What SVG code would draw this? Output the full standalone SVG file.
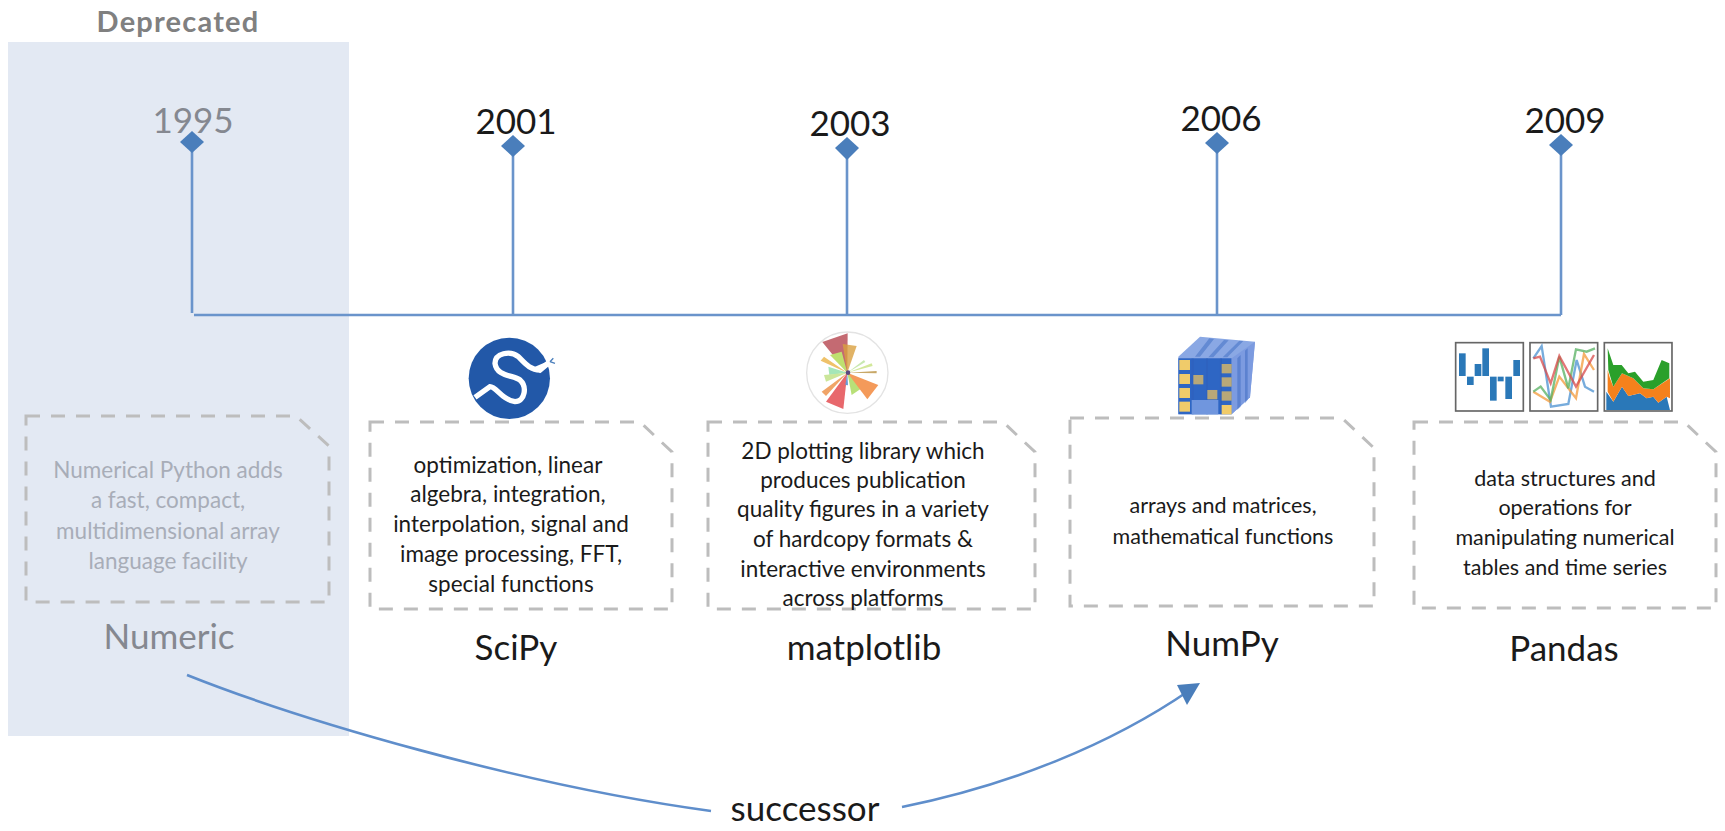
<svg xmlns="http://www.w3.org/2000/svg" width="1725" height="831" viewBox="0 0 1725 831">
<style>
text{font-family:"Lato","Open Sans","Liberation Sans",sans-serif;text-anchor:middle;fill:#1a1a1a}
.yr{font-size:35px}
.nm{font-size:35px}
.d{font-size:22.5px}
.n{font-size:21.5px}
.g{fill:#858890}
.gd{fill:#a8adb8}
.note{fill:none;stroke:#bdbdbd;stroke-width:3;stroke-dasharray:14 11}
.stem{fill:none;stroke:#6a94cb;stroke-width:2.6}
.dia{fill:#4a7ebb}
.curve{fill:none;stroke:#5f8ecb;stroke-width:2.6}
</style>
<defs>
<filter id="soft" x="-5%" y="-5%" width="110%" height="110%"><feGaussianBlur stdDeviation="2"/></filter>
</defs>
<rect x="8" y="42" width="341" height="694" fill="#e3e9f3"/>
<text x="178" y="32" font-size="29" font-weight="700" letter-spacing="1.2" style="fill:#808080">Deprecated</text>
<g id="connectors">
<path class="stem" d="M192 142V313"/>
<path class="stem" d="M194 315H1561"/>
<path class="stem" d="M513 146V315M847 148V315M1217 143V315M1561 145V315"/>
<path class="curve" d="M187 675C300 720 520 785 711 811"/>
<path class="curve" d="M902 807C1010 785 1110 745 1190 690"/>
<path d="M1200 683L1177 685L1187 705Z" fill="#4a7ebb"/>
</g>
<g id="n1995">
<path class="dia" d="M192 131L204 142L192 153L180 142Z"/>
<text class="yr g" x="193" y="133">1995</text>
<path class="note" d="M26 416H296L329 446V602H26Z"/>
<text class="d gd" x="168" y="478">Numerical Python adds</text>
<text class="d gd" x="168" y="508">a fast, compact,</text>
<text class="d gd" x="168" y="539">multidimensional array</text>
<text class="d gd" x="168" y="569">language facility</text>
<text class="nm g" x="169" y="649">Numeric</text>
</g>
<g id="n2001">
<path class="dia" d="M513 135L525 146L513 157L501 146Z"/>
<text class="yr" x="516" y="134">2001</text>
<g transform="translate(440 320) scale(.3333)" filter="url(#soft)">
<circle cx="208" cy="175" r="122" fill="#2058a8"/>
<path d="M105 232L150 200C170 200 185 240 225 245C255 245 262 200 240 180C220 165 170 170 165 130C165 100 210 90 235 110C255 130 270 150 300 150L330 125" fill="none" stroke="#fff" stroke-width="16"/>
<path d="M285 140L320 125L340 118L343 135L318 140L300 160Z" fill="#fff"/>
<path d="M330 125L340 115M330 125L345 130" stroke="#4a7ebb" stroke-width="4"/>
</g>
<path class="note" d="M370 422H640L672 452V609H370Z"/>
<text class="d" x="508" y="473">optimization, linear</text>
<text class="d" x="508" y="502">algebra, integration,</text>
<text class="d" x="511" y="532">interpolation, signal and</text>
<text class="d" x="511" y="562">image processing, FFT,</text>
<text class="d" x="511" y="592">special functions</text>
<text class="nm" x="516" y="660">SciPy</text>
</g>
<g id="n2003">
<path class="dia" d="M847 137L859 148L847 160L835 148Z"/>
<text class="yr" x="850" y="136">2003</text>
<g transform="translate(760 320) scale(.3333)" filter="url(#soft)">
<circle cx="262" cy="158" r="122" fill="#fff" stroke="#e3e3e3" stroke-width="4"/>
<path d="M262 158L263 40L187 66Z" fill="#c46b72"/>
<path d="M262 158L248 72L290 78Z" fill="#d9a040" fill-opacity=".8"/>
<path d="M262 158L182 122L192 110Z" fill="#efc26a"/>
<path d="M262 158L210 105L245 95Z" fill="#bfe070"/>
<path d="M262 158L205 140L208 165Z" fill="#a4e6b8"/>
<path d="M262 158L192 165L198 185Z" fill="#cbe69a"/>
<path d="M262 158L185 215L198 228Z" fill="#f0a468"/>
<path d="M262 158L198 245L250 267Z" fill="#e8686c"/>
<path d="M262 158L256 195L264 196Z" fill="#6a9bd8"/>
<path d="M262 158L275 225L305 205Z" fill="#b8e078"/>
<path d="M262 158L322 238L355 195Z" fill="#f49a5a"/>
<path d="M262 158L350 153L350 160Z" fill="#c8a868"/>
<path d="M262 158L335 130L338 138Z" fill="#d2e89a"/>
<path d="M262 158L312 120L316 126Z" fill="#c8e8b0"/>
<circle cx="264" cy="158" r="7" fill="#5a4a80"/>
</g>
<path class="note" d="M708 422H1003L1035 452V609H708Z"/>
<text class="d" x="863" y="459">2D plotting library which</text>
<text class="d" x="863" y="488">produces publication</text>
<text class="d" x="863" y="517">quality figures in a variety</text>
<text class="d" x="863" y="547">of hardcopy formats &amp;</text>
<text class="d" x="863" y="577">interactive environments</text>
<text class="d" x="863" y="606">across platforms</text>
<text class="nm" x="864" y="660">matplotlib</text>
</g>
<g id="n2006">
<path class="dia" d="M1217 132L1229 143L1217 154L1205 143Z"/>
<text class="yr" x="1221" y="131">2006</text>
<g transform="translate(1150 320) scale(.3333)" filter="url(#soft)">
<path d="M85 110L150 50L315 65L300 232L245 283H85Z" fill="#8aa8e4"/>
<path d="M85 115H245V283H85Z" fill="#2f66c4"/>
<path d="M245 115L315 65L300 232L245 283Z" fill="#7c9be0"/>
<g fill="#2a5cb8" fill-opacity=".4"><rect x="125" y="115" width="6" height="168"/><rect x="168" y="115" width="6" height="168"/><rect x="210" y="115" width="6" height="168"/><path d="M178 55L192 57L150 110H135ZM222 60L236 61L190 112H175ZM268 62L280 63L232 112H218Z"/><path d="M262 115L272 105V260L262 270ZM285 92L293 85V240L285 250Z"/></g>
<path d="M125 240H205V283H125Z" fill="#6f96de"/>
<g fill="#f0cb6a"><rect x="88" y="120" width="32" height="30"/><rect x="88" y="162" width="32" height="30"/><rect x="88" y="204" width="32" height="30"/><rect x="88" y="245" width="32" height="30"/><rect x="215" y="255" width="30" height="28"/></g>
<g fill="#b8a878"><rect x="215" y="132" width="30" height="28"/><rect x="215" y="172" width="30" height="28"/><rect x="215" y="214" width="30" height="28"/><rect x="172" y="210" width="30" height="28"/><rect x="130" y="165" width="30" height="28"/></g>
</g>
<path class="note" d="M1070 418H1342L1374 448V606H1070Z"/>
<text class="n" x="1223" y="513">arrays and matrices,</text>
<text class="n" x="1223" y="544">mathematical functions</text>
<text class="nm" x="1222" y="656">NumPy</text>
</g>
<g id="n2009">
<path class="dia" d="M1561 134L1573 145L1561 156L1549 145Z"/>
<text class="yr" x="1565" y="133">2009</text>
<g transform="translate(1440 330) scale(.3333)" filter="url(#soft)">
<g fill="#fff" stroke="#666" stroke-width="5"><rect x="47" y="38" width="203" height="205"/><rect x="270" y="38" width="203" height="205"/><rect x="493" y="38" width="203" height="205"/></g>
<g fill="#2a78b8"><rect x="57" y="70" width="20" height="68"/><rect x="81" y="140" width="20" height="25"/><rect x="104" y="102" width="20" height="36"/><rect x="127" y="55" width="20" height="83"/><rect x="150" y="140" width="20" height="72"/><rect x="173" y="140" width="18" height="14"/><rect x="196" y="140" width="20" height="67"/><rect x="220" y="90" width="20" height="48"/></g>
<g fill="none" stroke-width="7" stroke-opacity=".75">
<path d="M280 85L305 48L333 230L385 222L410 90L435 170L462 185" stroke="#4a90d0"/>
<path d="M280 185L330 215L358 140L408 205L432 72L462 120" stroke="#f39a3a"/>
<path d="M280 185L302 170L332 210L358 80L385 175L408 58L440 65L465 55" stroke="#55b060"/>
<path d="M280 85L300 80L332 160L358 78L408 170L462 75" stroke="#d84a4a"/>
</g>
<path d="M499 240V185L520 215L546 170L565 198L600 190L620 205L640 200L655 218L680 200L690 240Z" fill="#2a78b8"/>
<path d="M503 120L510 145L520 170L546 130L580 145L610 175L640 178L690 145V205L680 200L655 218L640 200L620 205L600 190L565 198L546 170L520 215L503 185Z" fill="#f5811f"/>
<path d="M503 55L520 105L545 105L565 130L585 125L610 155L640 150L665 90L688 100V145L640 178L610 175L580 145L546 130L520 170L505 120Z" fill="#2ca02c"/>
</g>
<path class="note" d="M1414 422H1684L1716 452V608H1414Z"/>
<text class="n" x="1565" y="486">data structures and</text>
<text class="n" x="1565" y="515">operations for</text>
<text class="n" x="1565" y="545">manipulating numerical</text>
<text class="n" x="1565" y="575">tables and time series</text>
<text class="nm" x="1564" y="661">Pandas</text>
</g>
<text class="nm" x="805" y="821">successor</text>
</svg>
